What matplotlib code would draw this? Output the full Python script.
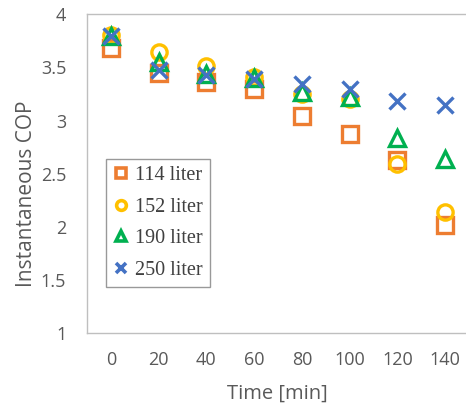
import numpy as np
import matplotlib.pyplot as plt
from matplotlib.lines import Line2D

# Dati
time_min = [0, 20, 40, 60, 80, 100, 120, 140]
cop_114 = [3.68, 3.45, 3.36, 3.30, 3.04, 2.87, 2.63, 2.02]
cop_152 = [3.81, 3.65, 3.51, 3.41, 3.25, 3.20, 2.59, 2.14]
cop_190 = [3.80, 3.55, 3.44, 3.40, 3.27, 3.22, 2.84, 2.64]
cop_250 = [3.80, 3.48, 3.43, 3.39, 3.34, 3.30, 3.18, 3.15]

series = [
    ("114 liter", cop_114, "s", "#ED7D31"),
    ("152 liter", cop_152, "o", "#FFC000"),
    ("190 liter", cop_190, "^", "#00B050"),
    ("250 liter", cop_250, "x", "#4472C4"),
]

plt.rcParams["font.family"] = ["Open Sans", "DejaVu Sans"]
grey = "#595959"

fig = plt.figure(figsize=(4.66, 4.04), dpi=100)
ax = fig.add_axes([87 / 466, 70.7 / 404, 382 / 466, 319 / 404])

for label, values, marker, color in series:
    if marker == "x":
        ax.plot(time_min, values, linestyle="none", marker=marker, markersize=11,
                markeredgewidth=2.4, color=color, label=label)
    else:
        ax.plot(time_min, values, linestyle="none", marker=marker, markersize=11,
                markerfacecolor="none", markeredgewidth=2.4, markeredgecolor=color,
                label=label)

ax.set_xlim(-10, 150)
ax.set_ylim(1, 4)
ax.set_xticks(time_min)
ax.set_yticks([1, 1.5, 2, 2.5, 3, 3.5, 4])
ax.set_yticklabels(["1", "1.5", "2", "2.5", "3", "3.5", "4"])

for side in ax.spines.values():
    side.set_color("#BFBFBF")
    side.set_linewidth(1.0)
ax.tick_params(length=0, labelsize=13, colors=grey)
ax.tick_params(axis="x", pad=13)
ax.tick_params(axis="y", pad=15)

ax.set_xlabel("Time [min]", fontsize=14.5, color=grey)
ax.set_ylabel("Instantaneous COP", fontsize=15, color=grey)
ax.xaxis.set_label_coords(0.5 * (110.7 + 445) / 382 - 87 / 382, -0.158)
ax.yaxis.set_label_coords(-0.13, 0.5 + (173.5 - 193) / 319)

handles = [
    Line2D([], [], linestyle="none", marker=m, markersize=7,
           markerfacecolor="none" if m != "x" else c, markeredgecolor=c,
           markeredgewidth=2.6, color=c)
    for _, _, m, c in series
]
leg = ax.legend(handles, [s[0] for s in series], loc="upper left",
                bbox_to_anchor=((105.7 - 87) / 382, (333.3 - 159) / 319),
                prop={"family": "Liberation Serif", "size": 14.5},
                frameon=True, fancybox=False, borderpad=0.35, labelspacing=0.62,
                handlelength=0.8, handletextpad=0.3, borderaxespad=0)
leg.get_frame().set_edgecolor("#808080")
leg.get_frame().set_linewidth(1.0)
for t in leg.get_texts():
    t.set_color("#404040")

fig.savefig("out.png", dpi=100)
